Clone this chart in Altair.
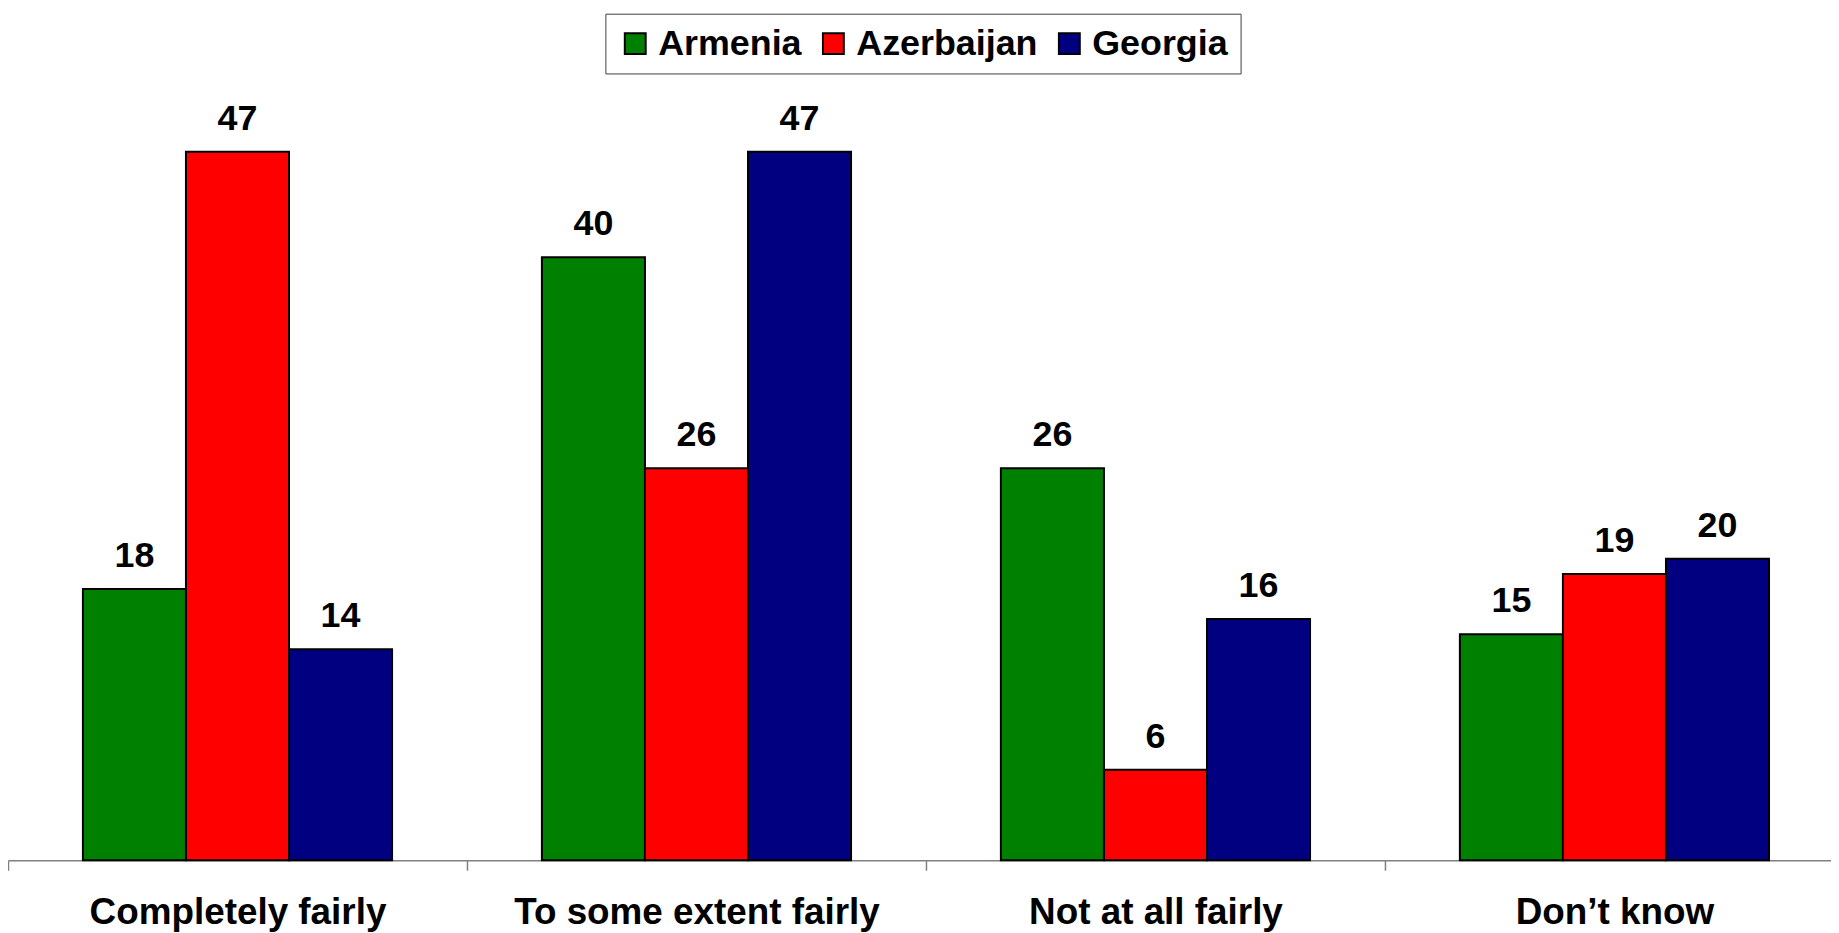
import altair as alt
import pandas as pd

categories = ["Completely fairly", "To some extent fairly", "Not at all fairly", "Don\u2019t know"]
countries = ["Armenia", "Azerbaijan", "Georgia"]
armenia = [18, 40, 26, 15]
azerbaijan = [47, 26, 6, 19]
georgia = [14, 47, 16, 20]
colors = ["#008000", "#FF0000", "#000080"]

rows = []
for c, vals in zip(countries, [armenia, azerbaijan, georgia]):
    for cat, v in zip(categories, vals):
        rows.append({"category": cat, "country": c, "value": v})
df = pd.DataFrame(rows)

FONT = "Liberation Sans"

x = alt.X(
    "category:N", sort=categories, title=None,
    scale=alt.Scale(range=[0, 1844], paddingInner=0, paddingOuter=0),
    axis=alt.Axis(labelAngle=0, labelFont=FONT, labelFontSize=37, labelFontWeight="bold",
                  labelColor="black", labelPadding=24, tickBand="extent", tickSize=10,
                  tickColor="#808080", domainColor="#808080", domainWidth=1.5, tickWidth=1.5,
                  labelLimit=400, grid=False),
)
xo = alt.XOffset("country:N", sort=countries,
                 scale=alt.Scale(paddingInner=0, paddingOuter=0.727))
y = alt.Y("value:Q", scale=alt.Scale(domain=[0, 50]), axis=None)

bars = alt.Chart(df).mark_bar(stroke="black", strokeWidth=2).encode(
    x=x, xOffset=xo, y=y,
    color=alt.Color(
        "country:N", sort=countries,
        scale=alt.Scale(domain=countries, range=colors),
        legend=alt.Legend(
            title=None, orient="none", legendX=600, legendY=-93.3, direction="horizontal",
            symbolType="square", symbolSize=440, symbolStrokeColor="black", symbolStrokeWidth=2,
            symbolOpacity=1, labelFont=FONT, labelFontSize=36, labelFontWeight="bold",
            labelColor="black", labelLimit=400, labelOffset=5, columnPadding=13, padding=12,
            strokeColor="#404040", fillColor="white",
        ),
    ),
)
labels = alt.Chart(df).mark_text(
    font=FONT, fontSize=36, fontWeight="bold", color="black", baseline="alphabetic", dy=-22
).encode(x=x, xOffset=xo, y=y, text="value:Q")

chart = alt.layer(bars, labels).properties(
    width=1831, height=757,
    autosize=alt.AutoSizeParams(type="none"),
    padding={"left": 0, "top": 97, "right": 0, "bottom": 71},
).configure_view(stroke=None)

chart.save("out.html", embed_options={"renderer": "svg", "actions": False})
